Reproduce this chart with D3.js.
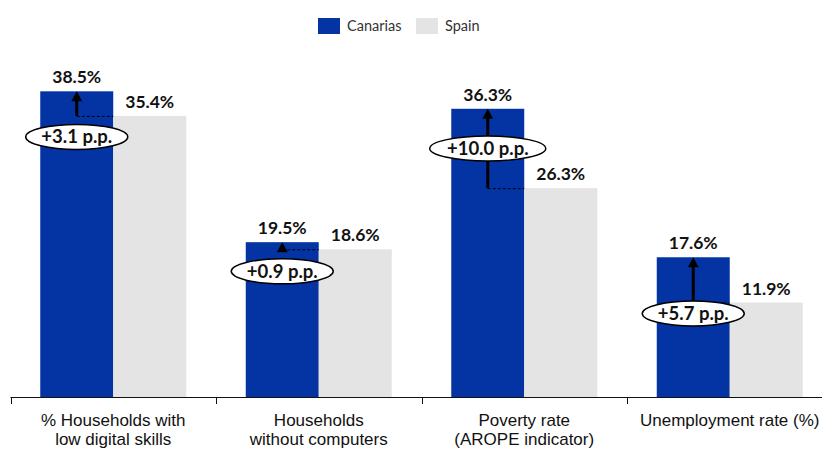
<!DOCTYPE html>
<html><head><meta charset="utf-8">
<script src="https://cdn.jsdelivr.net/npm/d3@7"></script>
<style>body{margin:0;background:#fff}svg{display:block}</style>
</head><body>
<script>
const categories = [["% Households with","low digital skills"],["Households","without computers"],["Poverty rate","(AROPE indicator)"],["Unemployment rate (%)",""]];
const seriesNames = ["Canarias","Spain"];
const canarias = [38.5, 19.5, 36.3, 17.6];
const spain = [35.4, 18.6, 26.3, 11.9];
const diffLabels = ["+3.1 p.p.","+0.9 p.p.","+10.0 p.p.","+5.7 p.p."];
// layout (pixel offsets for the difference bubbles, relative to Spain level; null = midpoint)
const bubbleOffset = [21, 22, null, 11];
const colors = ["#0434A4","#E4E4E4"];

const W = 822, H = 449;
const svg = d3.select("body").append("svg").attr("width", W).attr("height", H);
const font = "Lato, 'Noto Sans', sans-serif";
const catFont = "'Liberation Sans', Arial, sans-serif";

const idx = d3.range(categories.length);
const x0 = d3.scaleBand().domain(idx).range([10.5, 10.5 + 205.5*4]).paddingInner(0).paddingOuter(0);
const x1 = d3.scaleBand().domain(seriesNames).range([0, x0.bandwidth()]).paddingInner(0).paddingOuter(0.4075);
const y = d3.scaleLinear().domain([0, 50]).range([397, 0]);
const base = y(0);

// bars
const g = svg.append("g");
idx.forEach(i => {
  const vals = [canarias[i], spain[i]];
  seriesNames.forEach((s, j) => {
    g.append("rect").attr("x", x0(i) + x1(s)).attr("y", y(vals[j]))
      .attr("width", x1.bandwidth()).attr("height", base - y(vals[j])).attr("fill", colors[j]);
    g.append("text").attr("x", x0(i) + x1(s) + x1.bandwidth()/2).attr("y", y(vals[j]) - 8)
      .attr("text-anchor", "middle").attr("font-family", font).attr("font-weight", "bold")
      .attr("font-size", 17.5).attr("fill", "#111").text(vals[j].toFixed(1) + "%");
  });
});

// axis
svg.append("line").attr("x1", 10.5).attr("x2", W).attr("y1", base + 0.5).attr("y2", base + 0.5)
  .attr("stroke", "#111").attr("stroke-width", 1);
idx.forEach(i => {
  svg.append("line").attr("x1", Math.round(x0(i)) + 0.5).attr("x2", Math.round(x0(i)) + 0.5)
    .attr("y1", base).attr("y2", base + 7).attr("stroke", "#111");
  categories[i].forEach((line, k) => {
    if (line) svg.append("text").attr("text-anchor", "middle").attr("font-family", catFont)
      .attr("font-size", 17).attr("fill", "#111")
      .attr("x", x0(i) + x0.bandwidth()/2).attr("y", 425.5 + k*19).text(line);
  });
});

// arrows and bubbles
idx.forEach(i => {
  const ax = x0(i) + x1("Canarias") + x1.bandwidth()/2;
  const yc = y(canarias[i]), ys = y(spain[i]);
  svg.append("line").attr("x1", ax).attr("x2", x0(i) + x1("Spain")).attr("y1", ys + 0.5).attr("y2", ys + 0.5)
    .attr("stroke", "#000").attr("stroke-width", 1).attr("stroke-dasharray", "3,2");
  const headH = 10, headW = 11;
  if (ys - yc > headH) {
    svg.append("line").attr("x1", ax).attr("x2", ax).attr("y1", ys).attr("y2", yc + headH - 1)
      .attr("stroke", "#000").attr("stroke-width", 3);
  }
  svg.append("path").attr("d", `M${ax},${yc} L${ax - headW/2},${yc + headH} L${ax + headW/2},${yc + headH} Z`)
    .attr("fill", "#000");
  const cy = bubbleOffset[i] == null ? (yc + ys)/2 : ys + bubbleOffset[i];
  const rx = diffLabels[i].length > 9 ? 58 : 51, ry = 12.5;
  svg.append("ellipse").attr("cx", ax).attr("cy", cy).attr("rx", rx).attr("ry", ry)
    .attr("fill", "#fff").attr("stroke", "#000").attr("stroke-width", 1.5);
  svg.append("text").attr("x", ax).attr("y", cy + 6.5).attr("text-anchor", "middle")
    .attr("font-family", font).attr("font-weight", "bold").attr("font-size", 18.5).attr("fill", "#111")
    .text(diffLabels[i]);
});

// legend
const legX = [318, 416];
seriesNames.forEach((s, j) => {
  svg.append("rect").attr("x", legX[j]).attr("y", 18).attr("width", 22).attr("height", 16).attr("fill", colors[j]);
  svg.append("text").attr("x", legX[j] + 29).attr("y", 31).attr("font-family", font)
    .attr("font-size", 14.5).attr("fill", "#333").text(s);
});
</script>
</body></html>
